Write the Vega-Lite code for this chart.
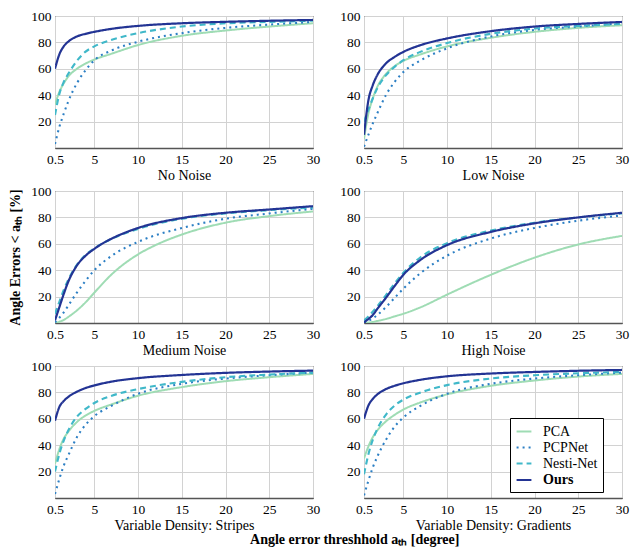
{
  "$schema": "https://vega.github.io/schema/vega-lite/v6.json",
  "padding": {"left": 8, "top": 8, "right": 5, "bottom": 3},
  "background": "white",
  "title": {"text": "Angle error threshhold aₜₕ [degree]", "orient": "bottom", "anchor": "middle", "font": "Liberation Serif", "fontSize": 14, "fontWeight": "bold", "color": "#000", "offset": 0, "dx": 36},
  "datasets": {
    "d": [
      {"panel":"No Noise","method":"PCA","x":0.5,"y":33},{"panel":"No Noise","method":"PCA","x":1,"y":42.5},{"panel":"No Noise","method":"PCA","x":1.5,"y":49},{"panel":"No Noise","method":"PCA","x":2,"y":54},{"panel":"No Noise","method":"PCA","x":3,"y":60},{"panel":"No Noise","method":"PCA","x":4,"y":64},{"panel":"No Noise","method":"PCA","x":5,"y":67},{"panel":"No Noise","method":"PCA","x":7,"y":71.5},{"panel":"No Noise","method":"PCA","x":10,"y":78},{"panel":"No Noise","method":"PCA","x":15,"y":85},{"panel":"No Noise","method":"PCA","x":20,"y":89},{"panel":"No Noise","method":"PCA","x":25,"y":92},{"panel":"No Noise","method":"PCA","x":30,"y":94.5},
      {"panel":"No Noise","method":"PCPNet","x":0.5,"y":3},{"panel":"No Noise","method":"PCPNet","x":1,"y":16},{"panel":"No Noise","method":"PCPNet","x":1.5,"y":26},{"panel":"No Noise","method":"PCPNet","x":2,"y":35},{"panel":"No Noise","method":"PCPNet","x":3,"y":49},{"panel":"No Noise","method":"PCPNet","x":4,"y":59},{"panel":"No Noise","method":"PCPNet","x":5,"y":66.5},{"panel":"No Noise","method":"PCPNet","x":7,"y":74},{"panel":"No Noise","method":"PCPNet","x":10,"y":80.5},{"panel":"No Noise","method":"PCPNet","x":15,"y":87},{"panel":"No Noise","method":"PCPNet","x":20,"y":91},{"panel":"No Noise","method":"PCPNet","x":25,"y":93.5},{"panel":"No Noise","method":"PCPNet","x":30,"y":95.5},
      {"panel":"No Noise","method":"Nesti-Net","x":0.5,"y":25},{"panel":"No Noise","method":"Nesti-Net","x":1,"y":41},{"panel":"No Noise","method":"Nesti-Net","x":1.5,"y":50},{"panel":"No Noise","method":"Nesti-Net","x":2,"y":56},{"panel":"No Noise","method":"Nesti-Net","x":3,"y":66},{"panel":"No Noise","method":"Nesti-Net","x":4,"y":73},{"panel":"No Noise","method":"Nesti-Net","x":5,"y":77},{"panel":"No Noise","method":"Nesti-Net","x":7,"y":82},{"panel":"No Noise","method":"Nesti-Net","x":10,"y":87},{"panel":"No Noise","method":"Nesti-Net","x":15,"y":92},{"panel":"No Noise","method":"Nesti-Net","x":20,"y":94.5},{"panel":"No Noise","method":"Nesti-Net","x":25,"y":95.5},{"panel":"No Noise","method":"Nesti-Net","x":30,"y":96.5},
      {"panel":"No Noise","method":"Ours","x":0.5,"y":60},{"panel":"No Noise","method":"Ours","x":1,"y":71},{"panel":"No Noise","method":"Ours","x":1.5,"y":77},{"panel":"No Noise","method":"Ours","x":2,"y":80.5},{"panel":"No Noise","method":"Ours","x":3,"y":84.5},{"panel":"No Noise","method":"Ours","x":4,"y":86.5},{"panel":"No Noise","method":"Ours","x":5,"y":88},{"panel":"No Noise","method":"Ours","x":7,"y":90.3},{"panel":"No Noise","method":"Ours","x":10,"y":92.5},{"panel":"No Noise","method":"Ours","x":15,"y":94.5},{"panel":"No Noise","method":"Ours","x":20,"y":95.6},{"panel":"No Noise","method":"Ours","x":25,"y":96.4},{"panel":"No Noise","method":"Ours","x":30,"y":97},

      {"panel":"Low Noise","method":"PCA","x":0.5,"y":7},{"panel":"Low Noise","method":"PCA","x":1,"y":26},{"panel":"Low Noise","method":"PCA","x":1.5,"y":37.5},{"panel":"Low Noise","method":"PCA","x":2,"y":46},{"panel":"Low Noise","method":"PCA","x":3,"y":56},{"panel":"Low Noise","method":"PCA","x":4,"y":62},{"panel":"Low Noise","method":"PCA","x":5,"y":66},{"panel":"Low Noise","method":"PCA","x":7,"y":71},{"panel":"Low Noise","method":"PCA","x":10,"y":77},{"panel":"Low Noise","method":"PCA","x":15,"y":83.5},{"panel":"Low Noise","method":"PCA","x":20,"y":88},{"panel":"Low Noise","method":"PCA","x":25,"y":91},{"panel":"Low Noise","method":"PCA","x":30,"y":93},
      {"panel":"Low Noise","method":"PCPNet","x":0.5,"y":1},{"panel":"Low Noise","method":"PCPNet","x":1,"y":10},{"panel":"Low Noise","method":"PCPNet","x":1.5,"y":18.5},{"panel":"Low Noise","method":"PCPNet","x":2,"y":26},{"panel":"Low Noise","method":"PCPNet","x":3,"y":40},{"panel":"Low Noise","method":"PCPNet","x":4,"y":50},{"panel":"Low Noise","method":"PCPNet","x":5,"y":57.5},{"panel":"Low Noise","method":"PCPNet","x":7,"y":66.5},{"panel":"Low Noise","method":"PCPNet","x":10,"y":75.5},{"panel":"Low Noise","method":"PCPNet","x":15,"y":84.5},{"panel":"Low Noise","method":"PCPNet","x":20,"y":89.5},{"panel":"Low Noise","method":"PCPNet","x":25,"y":92},{"panel":"Low Noise","method":"PCPNet","x":30,"y":94.5},
      {"panel":"Low Noise","method":"Nesti-Net","x":0.5,"y":20},{"panel":"Low Noise","method":"Nesti-Net","x":1,"y":29},{"panel":"Low Noise","method":"Nesti-Net","x":1.5,"y":37.5},{"panel":"Low Noise","method":"Nesti-Net","x":2,"y":45},{"panel":"Low Noise","method":"Nesti-Net","x":3,"y":55},{"panel":"Low Noise","method":"Nesti-Net","x":4,"y":61.5},{"panel":"Low Noise","method":"Nesti-Net","x":5,"y":66.5},{"panel":"Low Noise","method":"Nesti-Net","x":7,"y":73},{"panel":"Low Noise","method":"Nesti-Net","x":10,"y":79.5},{"panel":"Low Noise","method":"Nesti-Net","x":15,"y":86.5},{"panel":"Low Noise","method":"Nesti-Net","x":20,"y":90.5},{"panel":"Low Noise","method":"Nesti-Net","x":25,"y":92.5},{"panel":"Low Noise","method":"Nesti-Net","x":30,"y":94},
      {"panel":"Low Noise","method":"Ours","x":0.5,"y":10},{"panel":"Low Noise","method":"Ours","x":1,"y":36},{"panel":"Low Noise","method":"Ours","x":1.5,"y":47.5},{"panel":"Low Noise","method":"Ours","x":2,"y":55},{"panel":"Low Noise","method":"Ours","x":3,"y":64},{"panel":"Low Noise","method":"Ours","x":4,"y":69},{"panel":"Low Noise","method":"Ours","x":5,"y":72.8},{"panel":"Low Noise","method":"Ours","x":7,"y":78},{"panel":"Low Noise","method":"Ours","x":10,"y":83},{"panel":"Low Noise","method":"Ours","x":15,"y":88.5},{"panel":"Low Noise","method":"Ours","x":20,"y":92},{"panel":"Low Noise","method":"Ours","x":25,"y":94},{"panel":"Low Noise","method":"Ours","x":30,"y":95.5},

      {"panel":"Medium Noise","method":"PCA","x":0.5,"y":0},{"panel":"Medium Noise","method":"PCA","x":1,"y":1},{"panel":"Medium Noise","method":"PCA","x":1.5,"y":2.3},{"panel":"Medium Noise","method":"PCA","x":2,"y":4.5},{"panel":"Medium Noise","method":"PCA","x":3,"y":9.5},{"panel":"Medium Noise","method":"PCA","x":4,"y":15.7},{"panel":"Medium Noise","method":"PCA","x":5,"y":23},{"panel":"Medium Noise","method":"PCA","x":7,"y":37},{"panel":"Medium Noise","method":"PCA","x":10,"y":52},{"panel":"Medium Noise","method":"PCA","x":12,"y":59},{"panel":"Medium Noise","method":"PCA","x":15,"y":67},{"panel":"Medium Noise","method":"PCA","x":20,"y":76},{"panel":"Medium Noise","method":"PCA","x":25,"y":81},{"panel":"Medium Noise","method":"PCA","x":30,"y":84.5},
      {"panel":"Medium Noise","method":"PCPNet","x":0.5,"y":0.5},{"panel":"Medium Noise","method":"PCPNet","x":1,"y":4},{"panel":"Medium Noise","method":"PCPNet","x":1.5,"y":8},{"panel":"Medium Noise","method":"PCPNet","x":2,"y":13},{"panel":"Medium Noise","method":"PCPNet","x":3,"y":23},{"panel":"Medium Noise","method":"PCPNet","x":4,"y":32},{"panel":"Medium Noise","method":"PCPNet","x":5,"y":40},{"panel":"Medium Noise","method":"PCPNet","x":7,"y":51},{"panel":"Medium Noise","method":"PCPNet","x":10,"y":61.5},{"panel":"Medium Noise","method":"PCPNet","x":15,"y":72},{"panel":"Medium Noise","method":"PCPNet","x":20,"y":79},{"panel":"Medium Noise","method":"PCPNet","x":25,"y":83},{"panel":"Medium Noise","method":"PCPNet","x":30,"y":86.5},
      {"panel":"Medium Noise","method":"Nesti-Net","x":0.5,"y":7},{"panel":"Medium Noise","method":"Nesti-Net","x":1,"y":16},{"panel":"Medium Noise","method":"Nesti-Net","x":1.5,"y":25},{"panel":"Medium Noise","method":"Nesti-Net","x":2,"y":32.5},{"panel":"Medium Noise","method":"Nesti-Net","x":3,"y":44},{"panel":"Medium Noise","method":"Nesti-Net","x":4,"y":51.5},{"panel":"Medium Noise","method":"Nesti-Net","x":5,"y":56.5},{"panel":"Medium Noise","method":"Nesti-Net","x":6,"y":60.5},{"panel":"Medium Noise","method":"Nesti-Net","x":7,"y":63.8},{"panel":"Medium Noise","method":"Nesti-Net","x":10,"y":71.3},{"panel":"Medium Noise","method":"Nesti-Net","x":15,"y":79},{"panel":"Medium Noise","method":"Nesti-Net","x":20,"y":83},{"panel":"Medium Noise","method":"Nesti-Net","x":25,"y":85.5},{"panel":"Medium Noise","method":"Nesti-Net","x":30,"y":87.5},
      {"panel":"Medium Noise","method":"Ours","x":0.5,"y":2},{"panel":"Medium Noise","method":"Ours","x":1,"y":12},{"panel":"Medium Noise","method":"Ours","x":1.5,"y":22},{"panel":"Medium Noise","method":"Ours","x":2,"y":31},{"panel":"Medium Noise","method":"Ours","x":3,"y":43.5},{"panel":"Medium Noise","method":"Ours","x":4,"y":51},{"panel":"Medium Noise","method":"Ours","x":5,"y":56.2},{"panel":"Medium Noise","method":"Ours","x":6,"y":60.5},{"panel":"Medium Noise","method":"Ours","x":7,"y":64},{"panel":"Medium Noise","method":"Ours","x":10,"y":72},{"panel":"Medium Noise","method":"Ours","x":15,"y":79.5},{"panel":"Medium Noise","method":"Ours","x":20,"y":83.5},{"panel":"Medium Noise","method":"Ours","x":25,"y":86},{"panel":"Medium Noise","method":"Ours","x":30,"y":88.5},

      {"panel":"High Noise","method":"PCA","x":0.5,"y":0},{"panel":"High Noise","method":"PCA","x":1,"y":0.3},{"panel":"High Noise","method":"PCA","x":1.5,"y":0.8},{"panel":"High Noise","method":"PCA","x":2,"y":1.5},{"panel":"High Noise","method":"PCA","x":3,"y":3},{"panel":"High Noise","method":"PCA","x":4,"y":5},{"panel":"High Noise","method":"PCA","x":5,"y":7},{"panel":"High Noise","method":"PCA","x":7,"y":12},{"panel":"High Noise","method":"PCA","x":10,"y":21.5},{"panel":"High Noise","method":"PCA","x":15,"y":36.5},{"panel":"High Noise","method":"PCA","x":20,"y":49.5},{"panel":"High Noise","method":"PCA","x":25,"y":59.5},{"panel":"High Noise","method":"PCA","x":30,"y":66},
      {"panel":"High Noise","method":"PCPNet","x":0.5,"y":0},{"panel":"High Noise","method":"PCPNet","x":1,"y":1.5},{"panel":"High Noise","method":"PCPNet","x":1.5,"y":3.5},{"panel":"High Noise","method":"PCPNet","x":2,"y":6},{"panel":"High Noise","method":"PCPNet","x":3,"y":12},{"panel":"High Noise","method":"PCPNet","x":4,"y":19},{"panel":"High Noise","method":"PCPNet","x":5,"y":26},{"panel":"High Noise","method":"PCPNet","x":7,"y":38},{"panel":"High Noise","method":"PCPNet","x":10,"y":51},{"panel":"High Noise","method":"PCPNet","x":15,"y":64},{"panel":"High Noise","method":"PCPNet","x":20,"y":72},{"panel":"High Noise","method":"PCPNet","x":25,"y":77.5},{"panel":"High Noise","method":"PCPNet","x":30,"y":81.5},
      {"panel":"High Noise","method":"Nesti-Net","x":0.5,"y":2},{"panel":"High Noise","method":"Nesti-Net","x":1,"y":5},{"panel":"High Noise","method":"Nesti-Net","x":1.5,"y":8.5},{"panel":"High Noise","method":"Nesti-Net","x":2,"y":12.5},{"panel":"High Noise","method":"Nesti-Net","x":3,"y":21},{"panel":"High Noise","method":"Nesti-Net","x":4,"y":30},{"panel":"High Noise","method":"Nesti-Net","x":5,"y":38},{"panel":"High Noise","method":"Nesti-Net","x":7,"y":50},{"panel":"High Noise","method":"Nesti-Net","x":10,"y":60.5},{"panel":"High Noise","method":"Nesti-Net","x":15,"y":70},{"panel":"High Noise","method":"Nesti-Net","x":20,"y":76},{"panel":"High Noise","method":"Nesti-Net","x":25,"y":80},{"panel":"High Noise","method":"Nesti-Net","x":30,"y":83},
      {"panel":"High Noise","method":"Ours","x":0.5,"y":0.5},{"panel":"High Noise","method":"Ours","x":1,"y":3},{"panel":"High Noise","method":"Ours","x":1.5,"y":6},{"panel":"High Noise","method":"Ours","x":2,"y":10.5},{"panel":"High Noise","method":"Ours","x":3,"y":19},{"panel":"High Noise","method":"Ours","x":4,"y":28},{"panel":"High Noise","method":"Ours","x":5,"y":36.5},{"panel":"High Noise","method":"Ours","x":7,"y":48},{"panel":"High Noise","method":"Ours","x":10,"y":59},{"panel":"High Noise","method":"Ours","x":15,"y":69},{"panel":"High Noise","method":"Ours","x":20,"y":75.5},{"panel":"High Noise","method":"Ours","x":25,"y":80},{"panel":"High Noise","method":"Ours","x":30,"y":83.5},

      {"panel":"Variable Density: Stripes","method":"PCA","x":0.5,"y":26},{"panel":"Variable Density: Stripes","method":"PCA","x":1,"y":37},{"panel":"Variable Density: Stripes","method":"PCA","x":1.5,"y":45},{"panel":"Variable Density: Stripes","method":"PCA","x":2,"y":50},{"panel":"Variable Density: Stripes","method":"PCA","x":3,"y":57.5},{"panel":"Variable Density: Stripes","method":"PCA","x":4,"y":62.5},{"panel":"Variable Density: Stripes","method":"PCA","x":5,"y":66},{"panel":"Variable Density: Stripes","method":"PCA","x":7,"y":71},{"panel":"Variable Density: Stripes","method":"PCA","x":10,"y":77.5},{"panel":"Variable Density: Stripes","method":"PCA","x":15,"y":84},{"panel":"Variable Density: Stripes","method":"PCA","x":20,"y":88.5},{"panel":"Variable Density: Stripes","method":"PCA","x":25,"y":91.5},{"panel":"Variable Density: Stripes","method":"PCA","x":30,"y":94},
      {"panel":"Variable Density: Stripes","method":"PCPNet","x":0.5,"y":3},{"panel":"Variable Density: Stripes","method":"PCPNet","x":1,"y":14.5},{"panel":"Variable Density: Stripes","method":"PCPNet","x":1.5,"y":24.5},{"panel":"Variable Density: Stripes","method":"PCPNet","x":2,"y":32},{"panel":"Variable Density: Stripes","method":"PCPNet","x":3,"y":46},{"panel":"Variable Density: Stripes","method":"PCPNet","x":4,"y":55.5},{"panel":"Variable Density: Stripes","method":"PCPNet","x":5,"y":62},{"panel":"Variable Density: Stripes","method":"PCPNet","x":7,"y":70},{"panel":"Variable Density: Stripes","method":"PCPNet","x":10,"y":79},{"panel":"Variable Density: Stripes","method":"PCPNet","x":15,"y":86.5},{"panel":"Variable Density: Stripes","method":"PCPNet","x":20,"y":90.5},{"panel":"Variable Density: Stripes","method":"PCPNet","x":25,"y":93},{"panel":"Variable Density: Stripes","method":"PCPNet","x":30,"y":95},
      {"panel":"Variable Density: Stripes","method":"Nesti-Net","x":0.5,"y":20},{"panel":"Variable Density: Stripes","method":"Nesti-Net","x":1,"y":33.5},{"panel":"Variable Density: Stripes","method":"Nesti-Net","x":1.5,"y":43.5},{"panel":"Variable Density: Stripes","method":"Nesti-Net","x":2,"y":51},{"panel":"Variable Density: Stripes","method":"Nesti-Net","x":3,"y":61.5},{"panel":"Variable Density: Stripes","method":"Nesti-Net","x":4,"y":67.5},{"panel":"Variable Density: Stripes","method":"Nesti-Net","x":5,"y":72},{"panel":"Variable Density: Stripes","method":"Nesti-Net","x":7,"y":77.5},{"panel":"Variable Density: Stripes","method":"Nesti-Net","x":10,"y":82.5},{"panel":"Variable Density: Stripes","method":"Nesti-Net","x":15,"y":88},{"panel":"Variable Density: Stripes","method":"Nesti-Net","x":20,"y":91.5},{"panel":"Variable Density: Stripes","method":"Nesti-Net","x":25,"y":93.5},{"panel":"Variable Density: Stripes","method":"Nesti-Net","x":30,"y":95},
      {"panel":"Variable Density: Stripes","method":"Ours","x":0.5,"y":58.5},{"panel":"Variable Density: Stripes","method":"Ours","x":1,"y":69},{"panel":"Variable Density: Stripes","method":"Ours","x":1.5,"y":73.5},{"panel":"Variable Density: Stripes","method":"Ours","x":2,"y":76.5},{"panel":"Variable Density: Stripes","method":"Ours","x":3,"y":80.5},{"panel":"Variable Density: Stripes","method":"Ours","x":4,"y":83.3},{"panel":"Variable Density: Stripes","method":"Ours","x":5,"y":85.3},{"panel":"Variable Density: Stripes","method":"Ours","x":7,"y":88.2},{"panel":"Variable Density: Stripes","method":"Ours","x":10,"y":90.8},{"panel":"Variable Density: Stripes","method":"Ours","x":15,"y":93.2},{"panel":"Variable Density: Stripes","method":"Ours","x":20,"y":94.8},{"panel":"Variable Density: Stripes","method":"Ours","x":25,"y":95.8},{"panel":"Variable Density: Stripes","method":"Ours","x":30,"y":96.5},

      {"panel":"Variable Density: Gradients","method":"PCA","x":0.5,"y":30},{"panel":"Variable Density: Gradients","method":"PCA","x":1,"y":39},{"panel":"Variable Density: Gradients","method":"PCA","x":1.5,"y":46},{"panel":"Variable Density: Gradients","method":"PCA","x":2,"y":51},{"panel":"Variable Density: Gradients","method":"PCA","x":3,"y":58},{"panel":"Variable Density: Gradients","method":"PCA","x":4,"y":63},{"panel":"Variable Density: Gradients","method":"PCA","x":5,"y":67},{"panel":"Variable Density: Gradients","method":"PCA","x":7,"y":72.5},{"panel":"Variable Density: Gradients","method":"PCA","x":10,"y":78.5},{"panel":"Variable Density: Gradients","method":"PCA","x":15,"y":85},{"panel":"Variable Density: Gradients","method":"PCA","x":20,"y":89},{"panel":"Variable Density: Gradients","method":"PCA","x":25,"y":92},{"panel":"Variable Density: Gradients","method":"PCA","x":30,"y":94},
      {"panel":"Variable Density: Gradients","method":"PCPNet","x":0.5,"y":2},{"panel":"Variable Density: Gradients","method":"PCPNet","x":1,"y":13},{"panel":"Variable Density: Gradients","method":"PCPNet","x":1.5,"y":23},{"panel":"Variable Density: Gradients","method":"PCPNet","x":2,"y":31},{"panel":"Variable Density: Gradients","method":"PCPNet","x":3,"y":44},{"panel":"Variable Density: Gradients","method":"PCPNet","x":4,"y":54},{"panel":"Variable Density: Gradients","method":"PCPNet","x":5,"y":61},{"panel":"Variable Density: Gradients","method":"PCPNet","x":7,"y":70},{"panel":"Variable Density: Gradients","method":"PCPNet","x":10,"y":79},{"panel":"Variable Density: Gradients","method":"PCPNet","x":15,"y":86.5},{"panel":"Variable Density: Gradients","method":"PCPNet","x":20,"y":90.5},{"panel":"Variable Density: Gradients","method":"PCPNet","x":25,"y":93},{"panel":"Variable Density: Gradients","method":"PCPNet","x":30,"y":95},
      {"panel":"Variable Density: Gradients","method":"Nesti-Net","x":0.5,"y":18},{"panel":"Variable Density: Gradients","method":"Nesti-Net","x":1,"y":33},{"panel":"Variable Density: Gradients","method":"Nesti-Net","x":1.5,"y":44},{"panel":"Variable Density: Gradients","method":"Nesti-Net","x":2,"y":52},{"panel":"Variable Density: Gradients","method":"Nesti-Net","x":3,"y":63},{"panel":"Variable Density: Gradients","method":"Nesti-Net","x":4,"y":70},{"panel":"Variable Density: Gradients","method":"Nesti-Net","x":5,"y":74.5},{"panel":"Variable Density: Gradients","method":"Nesti-Net","x":7,"y":80},{"panel":"Variable Density: Gradients","method":"Nesti-Net","x":10,"y":85.5},{"panel":"Variable Density: Gradients","method":"Nesti-Net","x":15,"y":90.5},{"panel":"Variable Density: Gradients","method":"Nesti-Net","x":20,"y":93},{"panel":"Variable Density: Gradients","method":"Nesti-Net","x":25,"y":94.5},{"panel":"Variable Density: Gradients","method":"Nesti-Net","x":30,"y":95.5},
      {"panel":"Variable Density: Gradients","method":"Ours","x":0.5,"y":60},{"panel":"Variable Density: Gradients","method":"Ours","x":1,"y":70},{"panel":"Variable Density: Gradients","method":"Ours","x":1.5,"y":75},{"panel":"Variable Density: Gradients","method":"Ours","x":2,"y":78.3},{"panel":"Variable Density: Gradients","method":"Ours","x":3,"y":82.5},{"panel":"Variable Density: Gradients","method":"Ours","x":4,"y":85},{"panel":"Variable Density: Gradients","method":"Ours","x":5,"y":86.9},{"panel":"Variable Density: Gradients","method":"Ours","x":7,"y":89.6},{"panel":"Variable Density: Gradients","method":"Ours","x":10,"y":92.2},{"panel":"Variable Density: Gradients","method":"Ours","x":15,"y":94.3},{"panel":"Variable Density: Gradients","method":"Ours","x":20,"y":95.5},{"panel":"Variable Density: Gradients","method":"Ours","x":25,"y":96.4},{"panel":"Variable Density: Gradients","method":"Ours","x":30,"y":97}
    ]
  },
  "columns": 2,
  "spacing": {"row": 0, "column": 18},
  "resolve": {
    "scale": {"color": "independent", "strokeDash": "independent", "strokeWidth": "independent"},
    "legend": {"color": "independent", "strokeDash": "independent", "strokeWidth": "independent"}
  },
  "concat": [
    {
      "width": 258, "height": 132,
      "data": {"name": "d"},
      "transform": [{"filter": "datum.panel === 'No Noise'"}],
      "mark": {"type": "line", "interpolate": "monotone", "clip": true},
      "encoding": {
        "x": {"field": "x", "type": "quantitative", "scale": {"domain": [0.5, 30], "nice": false, "zero": false}, "axis": {"values": [0.5, 5, 10, 15, 20, 25, 30], "format": "~g", "title": "No Noise"}},
        "y": {"field": "y", "type": "quantitative", "scale": {"domain": [0, 100], "nice": false}, "axis": {"values": [20, 40, 60, 80, 100], "title": null}},
        "color": {"field": "method", "type": "nominal", "scale": {"domain": ["PCA", "PCPNet", "Nesti-Net", "Ours"], "range": ["#9fdcb4", "#2c7fc4", "#40b8c9", "#233494"]}, "legend": null},
        "strokeDash": {"field": "method", "type": "nominal", "scale": {"domain": ["PCA", "PCPNet", "Nesti-Net", "Ours"], "range": [[1, 0], [2, 4], [6, 4], [1, 0]]}, "legend": null},
        "strokeWidth": {"field": "method", "type": "nominal", "scale": {"domain": ["PCA", "PCPNet", "Nesti-Net", "Ours"], "range": [2, 2.2, 2, 2.4]}, "legend": null}
      }
    },
    {
      "width": 258, "height": 132,
      "data": {"name": "d"},
      "transform": [{"filter": "datum.panel === 'Low Noise'"}],
      "mark": {"type": "line", "interpolate": "monotone", "clip": true},
      "encoding": {
        "x": {"field": "x", "type": "quantitative", "scale": {"domain": [0.5, 30], "nice": false, "zero": false}, "axis": {"values": [0.5, 5, 10, 15, 20, 25, 30], "format": "~g", "title": "Low Noise"}},
        "y": {"field": "y", "type": "quantitative", "scale": {"domain": [0, 100], "nice": false}, "axis": {"values": [20, 40, 60, 80, 100], "title": null}},
        "color": {"field": "method", "type": "nominal", "scale": {"domain": ["PCA", "PCPNet", "Nesti-Net", "Ours"], "range": ["#9fdcb4", "#2c7fc4", "#40b8c9", "#233494"]}, "legend": null},
        "strokeDash": {"field": "method", "type": "nominal", "scale": {"domain": ["PCA", "PCPNet", "Nesti-Net", "Ours"], "range": [[1, 0], [2, 4], [6, 4], [1, 0]]}, "legend": null},
        "strokeWidth": {"field": "method", "type": "nominal", "scale": {"domain": ["PCA", "PCPNet", "Nesti-Net", "Ours"], "range": [2, 2.2, 2, 2.4]}, "legend": null}
      }
    },
    {
      "width": 258, "height": 132,
      "data": {"name": "d"},
      "transform": [{"filter": "datum.panel === 'Medium Noise'"}],
      "mark": {"type": "line", "interpolate": "monotone", "clip": true},
      "encoding": {
        "x": {"field": "x", "type": "quantitative", "scale": {"domain": [0.5, 30], "nice": false, "zero": false}, "axis": {"values": [0.5, 5, 10, 15, 20, 25, 30], "format": "~g", "title": "Medium Noise"}},
        "y": {"field": "y", "type": "quantitative", "scale": {"domain": [0, 100], "nice": false}, "axis": {"values": [20, 40, 60, 80, 100], "title": "Angle Errors < aₜₕ [%]", "titleFontWeight": "bold", "titlePadding": 8}},
        "color": {"field": "method", "type": "nominal", "scale": {"domain": ["PCA", "PCPNet", "Nesti-Net", "Ours"], "range": ["#9fdcb4", "#2c7fc4", "#40b8c9", "#233494"]}, "legend": null},
        "strokeDash": {"field": "method", "type": "nominal", "scale": {"domain": ["PCA", "PCPNet", "Nesti-Net", "Ours"], "range": [[1, 0], [2, 4], [6, 4], [1, 0]]}, "legend": null},
        "strokeWidth": {"field": "method", "type": "nominal", "scale": {"domain": ["PCA", "PCPNet", "Nesti-Net", "Ours"], "range": [2, 2.2, 2, 2.4]}, "legend": null}
      }
    },
    {
      "width": 258, "height": 132,
      "data": {"name": "d"},
      "transform": [{"filter": "datum.panel === 'High Noise'"}],
      "mark": {"type": "line", "interpolate": "monotone", "clip": true},
      "encoding": {
        "x": {"field": "x", "type": "quantitative", "scale": {"domain": [0.5, 30], "nice": false, "zero": false}, "axis": {"values": [0.5, 5, 10, 15, 20, 25, 30], "format": "~g", "title": "High Noise"}},
        "y": {"field": "y", "type": "quantitative", "scale": {"domain": [0, 100], "nice": false}, "axis": {"values": [20, 40, 60, 80, 100], "title": null}},
        "color": {"field": "method", "type": "nominal", "scale": {"domain": ["PCA", "PCPNet", "Nesti-Net", "Ours"], "range": ["#9fdcb4", "#2c7fc4", "#40b8c9", "#233494"]}, "legend": null},
        "strokeDash": {"field": "method", "type": "nominal", "scale": {"domain": ["PCA", "PCPNet", "Nesti-Net", "Ours"], "range": [[1, 0], [2, 4], [6, 4], [1, 0]]}, "legend": null},
        "strokeWidth": {"field": "method", "type": "nominal", "scale": {"domain": ["PCA", "PCPNet", "Nesti-Net", "Ours"], "range": [2, 2.2, 2, 2.4]}, "legend": null}
      }
    },
    {
      "width": 258, "height": 132,
      "data": {"name": "d"},
      "transform": [{"filter": "datum.panel === 'Variable Density: Stripes'"}],
      "mark": {"type": "line", "interpolate": "monotone", "clip": true},
      "encoding": {
        "x": {"field": "x", "type": "quantitative", "scale": {"domain": [0.5, 30], "nice": false, "zero": false}, "axis": {"values": [0.5, 5, 10, 15, 20, 25, 30], "format": "~g", "title": "Variable Density: Stripes"}},
        "y": {"field": "y", "type": "quantitative", "scale": {"domain": [0, 100], "nice": false}, "axis": {"values": [20, 40, 60, 80, 100], "title": null}},
        "color": {"field": "method", "type": "nominal", "scale": {"domain": ["PCA", "PCPNet", "Nesti-Net", "Ours"], "range": ["#9fdcb4", "#2c7fc4", "#40b8c9", "#233494"]}, "legend": null},
        "strokeDash": {"field": "method", "type": "nominal", "scale": {"domain": ["PCA", "PCPNet", "Nesti-Net", "Ours"], "range": [[1, 0], [2, 4], [6, 4], [1, 0]]}, "legend": null},
        "strokeWidth": {"field": "method", "type": "nominal", "scale": {"domain": ["PCA", "PCPNet", "Nesti-Net", "Ours"], "range": [2, 2.2, 2, 2.4]}, "legend": null}
      }
    },
    {
      "width": 258, "height": 132,
      "data": {"name": "d"},
      "transform": [{"filter": "datum.panel === 'Variable Density: Gradients'"}],
      "mark": {"type": "line", "interpolate": "monotone", "clip": true},
      "encoding": {
        "x": {"field": "x", "type": "quantitative", "scale": {"domain": [0.5, 30], "nice": false, "zero": false}, "axis": {"values": [0.5, 5, 10, 15, 20, 25, 30], "format": "~g", "title": "Variable Density: Gradients"}},
        "y": {"field": "y", "type": "quantitative", "scale": {"domain": [0, 100], "nice": false}, "axis": {"values": [20, 40, 60, 80, 100], "title": null}},
        "color": {"field": "method", "type": "nominal", "scale": {"domain": ["PCA", "PCPNet", "Nesti-Net", "Ours"], "range": ["#9fdcb4", "#2c7fc4", "#40b8c9", "#233494"]},
          "legend": {"orient": "none", "legendX": 146, "legendY": 52, "title": null, "fillColor": "white", "strokeColor": "#000", "padding": 5, "symbolType": "stroke", "symbolSize": 220, "labelFont": "Liberation Serif", "labelFontSize": 14, "labelOffset": 10, "labelColor": "#000", "rowPadding": 0, "encode": {"labels": {"update": {"fontWeight": {"signal": "datum.label === 'Ours' ? 'bold' : 'normal'"}}}}}},
        "strokeDash": {"field": "method", "type": "nominal", "scale": {"domain": ["PCA", "PCPNet", "Nesti-Net", "Ours"], "range": [[1, 0], [2, 4], [6, 4], [1, 0]]},
          "legend": {"orient": "none", "legendX": 146, "legendY": 52, "title": null, "fillColor": "white", "strokeColor": "#000", "padding": 5, "symbolType": "stroke", "symbolSize": 220, "labelFont": "Liberation Serif", "labelFontSize": 14, "labelOffset": 10, "labelColor": "#000", "rowPadding": 0, "encode": {"labels": {"update": {"fontWeight": {"signal": "datum.label === 'Ours' ? 'bold' : 'normal'"}}}}}},
        "strokeWidth": {"field": "method", "type": "nominal", "scale": {"domain": ["PCA", "PCPNet", "Nesti-Net", "Ours"], "range": [2, 2.2, 2, 2.4]},
          "legend": {"orient": "none", "legendX": 146, "legendY": 52, "title": null, "fillColor": "white", "strokeColor": "#000", "padding": 5, "symbolType": "stroke", "symbolSize": 220, "labelFont": "Liberation Serif", "labelFontSize": 14, "labelOffset": 10, "labelColor": "#000", "rowPadding": 0, "encode": {"labels": {"update": {"fontWeight": {"signal": "datum.label === 'Ours' ? 'bold' : 'normal'"}}}}}}
      }
    }
  ],
  "config": {
    "font": "Liberation Serif",
    "view": {"stroke": "#000", "strokeWidth": 1},
    "axis": {"labelFont": "Liberation Serif", "labelFontSize": 13.5, "labelColor": "#000", "titleFont": "Liberation Serif", "titleFontSize": 14, "titleFontWeight": "normal", "titleColor": "#000", "ticks": false, "domain": false, "gridColor": "#d2d2d2", "gridWidth": 1, "labelPadding": 4, "titlePadding": 3, "labelFlush": false},
    "axisX": {"labelFont": "Liberation Serif", "domain": true, "domainColor": "#555", "domainWidth": 1.5},
    "axisY": {"labelFont": "Liberation Serif"}
  }
}
